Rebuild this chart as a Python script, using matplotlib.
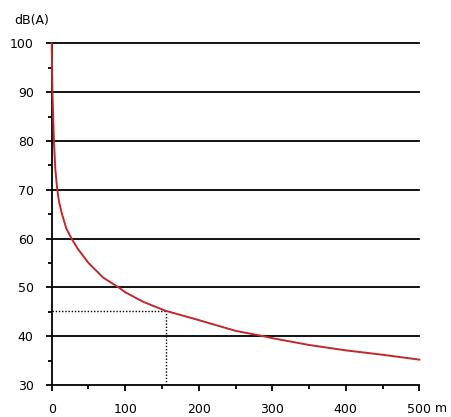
import numpy as np
import matplotlib
matplotlib.use("Agg")
import matplotlib.pyplot as plt

# distance [m] and sound level [dB(A)]
dist = [0, 0.5, 1, 3, 5, 7.6, 10, 14, 20, 27, 35, 50, 70, 91, 100, 125, 155,
        200, 250, 288, 300, 350, 400, 450, 500]
level = [100, 95, 90, 80, 74, 70, 67.5, 65, 62, 60, 58, 55, 52, 50, 49, 47, 45.2,
         43.3, 41.1, 40, 39.6, 38.2, 37.1, 36.2, 35.2]

# marked point
mark_x = 155
mark_y = 45.2

x_ticks = [0, 100, 200, 300, 400, 500]
y_ticks = [30, 40, 50, 60, 70, 80, 90, 100]

fig = plt.figure(figsize=(4.52, 4.17), dpi=100)
ax = fig.add_axes([0.1144, 0.0767, 0.8133, 0.8195])

for v in y_ticks[1:]:
    ax.axhline(v, color='black', lw=1.3, zorder=1, clip_on=False)

ax.plot([0, mark_x], [mark_y, mark_y], color='black', lw=1,
        linestyle=(0, (1, 1.3)), zorder=2)
ax.plot([mark_x, mark_x], [30, mark_y], color='black', lw=1,
        linestyle=(0, (1, 1.3)), zorder=2)

ax.plot(dist, level, color='#c0282a', lw=1.4, zorder=3, clip_on=False)

ax.set_xlim(0, 500)
ax.set_ylim(30, 100)
ax.set_xticks(x_ticks)
ax.set_xticks(np.arange(50, 500, 100), minor=True)
ax.set_yticks(y_ticks)
ax.set_yticks(np.arange(35, 100, 10), minor=True)

for s in ['top', 'right']:
    ax.spines[s].set_visible(False)
for s in ['left', 'bottom']:
    ax.spines[s].set_linewidth(1.3)

ax.tick_params(axis='both', which='major', length=4, width=1.3, labelsize=9,
               direction='out')
ax.tick_params(axis='both', which='minor', length=3, width=1.3, direction='out')
ax.tick_params(axis='x', which='major', pad=9)
ax.tick_params(axis='y', which='major', pad=9)

ax.annotate('m', xy=(1, 0), xycoords='axes fraction', xytext=(11.5, -12.5),
            textcoords='offset points', ha='left', va='top', fontsize=9)
fig.text(14 / 452, 1 - 20.7 / 417, 'dB(A)', ha='left', va='center', fontsize=9)

fig.savefig("out.png", dpi=100)
